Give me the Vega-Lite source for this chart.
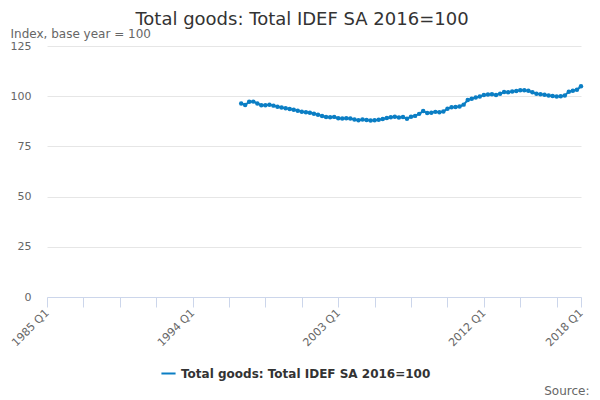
{
  "$schema": "https://vega.github.io/schema/vega-lite/v6.json",
  "width": 534,
  "height": 251,
  "autosize": {"type": "none"},
  "padding": {"left": 47, "top": 46, "right": 19, "bottom": 103},
  "background": "white",
  "config": {
    "font": "DejaVu Sans",
    "view": {"stroke": null}
  },
  "title": {
    "text": "Total goods: Total IDEF SA 2016=100",
    "fontSize": 18,
    "fontWeight": "normal",
    "color": "#333333",
    "anchor": "middle",
    "dx": -12,
    "dy": 23,
    "offset": 21
  },
  "data": {
    "values": [
      {"date": "1997-01-01", "value": 96.4},
      {"date": "1997-04-01", "value": 95.6},
      {"date": "1997-07-01", "value": 97.2},
      {"date": "1997-10-01", "value": 97.3},
      {"date": "1998-01-01", "value": 96.4},
      {"date": "1998-04-01", "value": 95.5},
      {"date": "1998-07-01", "value": 95.5},
      {"date": "1998-10-01", "value": 95.7},
      {"date": "1999-01-01", "value": 95.3},
      {"date": "1999-04-01", "value": 94.7},
      {"date": "1999-07-01", "value": 94.4},
      {"date": "1999-10-01", "value": 94.0},
      {"date": "2000-01-01", "value": 93.6},
      {"date": "2000-04-01", "value": 93.2},
      {"date": "2000-07-01", "value": 92.7},
      {"date": "2000-10-01", "value": 92.3},
      {"date": "2001-01-01", "value": 92.0},
      {"date": "2001-04-01", "value": 91.8},
      {"date": "2001-07-01", "value": 91.3},
      {"date": "2001-10-01", "value": 90.8},
      {"date": "2002-01-01", "value": 90.1},
      {"date": "2002-04-01", "value": 89.6},
      {"date": "2002-07-01", "value": 89.5},
      {"date": "2002-10-01", "value": 89.7},
      {"date": "2003-01-01", "value": 89.0},
      {"date": "2003-04-01", "value": 88.9},
      {"date": "2003-07-01", "value": 89.0},
      {"date": "2003-10-01", "value": 88.9},
      {"date": "2004-01-01", "value": 88.4},
      {"date": "2004-04-01", "value": 88.0},
      {"date": "2004-07-01", "value": 88.4},
      {"date": "2004-10-01", "value": 88.1},
      {"date": "2005-01-01", "value": 87.9},
      {"date": "2005-04-01", "value": 88.0},
      {"date": "2005-07-01", "value": 88.3},
      {"date": "2005-10-01", "value": 88.6},
      {"date": "2006-01-01", "value": 89.1},
      {"date": "2006-04-01", "value": 89.5},
      {"date": "2006-07-01", "value": 89.8},
      {"date": "2006-10-01", "value": 89.4},
      {"date": "2007-01-01", "value": 89.6},
      {"date": "2007-04-01", "value": 88.8},
      {"date": "2007-07-01", "value": 89.8},
      {"date": "2007-10-01", "value": 90.2},
      {"date": "2008-01-01", "value": 91.2},
      {"date": "2008-04-01", "value": 92.6},
      {"date": "2008-07-01", "value": 91.6},
      {"date": "2008-10-01", "value": 91.8},
      {"date": "2009-01-01", "value": 92.2},
      {"date": "2009-04-01", "value": 92.0},
      {"date": "2009-07-01", "value": 92.4},
      {"date": "2009-10-01", "value": 93.8},
      {"date": "2010-01-01", "value": 94.5},
      {"date": "2010-04-01", "value": 94.6},
      {"date": "2010-07-01", "value": 94.9},
      {"date": "2010-10-01", "value": 95.8},
      {"date": "2011-01-01", "value": 98.1},
      {"date": "2011-04-01", "value": 98.7},
      {"date": "2011-07-01", "value": 99.4},
      {"date": "2011-10-01", "value": 99.9},
      {"date": "2012-01-01", "value": 100.6},
      {"date": "2012-04-01", "value": 100.9},
      {"date": "2012-07-01", "value": 101.0},
      {"date": "2012-10-01", "value": 100.6},
      {"date": "2013-01-01", "value": 101.2},
      {"date": "2013-04-01", "value": 102.1},
      {"date": "2013-07-01", "value": 102.0},
      {"date": "2013-10-01", "value": 102.3},
      {"date": "2014-01-01", "value": 102.6},
      {"date": "2014-04-01", "value": 103.0},
      {"date": "2014-07-01", "value": 103.0},
      {"date": "2014-10-01", "value": 102.7},
      {"date": "2015-01-01", "value": 102.0},
      {"date": "2015-04-01", "value": 101.2},
      {"date": "2015-07-01", "value": 101.0},
      {"date": "2015-10-01", "value": 100.7},
      {"date": "2016-01-01", "value": 100.4},
      {"date": "2016-04-01", "value": 100.1},
      {"date": "2016-07-01", "value": 99.9},
      {"date": "2016-10-01", "value": 100.0},
      {"date": "2017-01-01", "value": 100.4},
      {"date": "2017-04-01", "value": 102.2},
      {"date": "2017-07-01", "value": 102.7},
      {"date": "2017-10-01", "value": 103.2},
      {"date": "2018-01-01", "value": 104.9}
    ]
  },
  "mark": {
    "type": "line",
    "strokeWidth": 2,
    "point": {"filled": true, "size": 20}
  },
  "encoding": {
    "x": {
      "field": "date",
      "type": "temporal",
      "scale": {"type": "utc", "domain": [{"year": 1985, "month": 1, "date": 1, "utc": true}, {"year": 2018, "month": 1, "date": 1, "utc": true}]},
      "axis": {
        "values": [
          {"year": 1985, "quarter": 1, "utc": true},
          {"year": 1987, "quarter": 2, "utc": true},
          {"year": 1989, "quarter": 3, "utc": true},
          {"year": 1991, "quarter": 4, "utc": true},
          {"year": 1994, "quarter": 1, "utc": true},
          {"year": 1996, "quarter": 2, "utc": true},
          {"year": 1998, "quarter": 3, "utc": true},
          {"year": 2000, "quarter": 4, "utc": true},
          {"year": 2003, "quarter": 1, "utc": true},
          {"year": 2005, "quarter": 2, "utc": true},
          {"year": 2007, "quarter": 3, "utc": true},
          {"year": 2009, "quarter": 4, "utc": true},
          {"year": 2012, "quarter": 1, "utc": true},
          {"year": 2014, "quarter": 2, "utc": true},
          {"year": 2016, "quarter": 3, "utc": true},
          {"year": 2018, "quarter": 1, "utc": true}
        ],
        "labelExpr": "indexof(['1985 Q1','1994 Q1','2003 Q1','2012 Q1','2018 Q1'], utcFormat(datum.value, '%Y Q%q')) >= 0 ? utcFormat(datum.value, '%Y Q%q') : ''",
        "labelAngle": -45,
        "labelAlign": "right",
        "labelBaseline": "middle",
        "labelFontSize": 11,
        "labelColor": "#666666",
        "labelOverlap": false,
        "labelBound": false,
        "labelFlush": false,
        "labelPadding": 4,
        "domainColor": "#ccd6eb",
        "tickColor": "#ccd6eb",
        "tickSize": 10,
        "grid": false,
        "title": "Source:",
        "titleFontSize": 12,
        "titleFontWeight": "normal",
        "titleColor": "#666666",
        "titleAnchor": "end",
        "titleAlign": "right",
        "titleBaseline": "alphabetic",
        "titleX": 542,
        "titleY": 97
      }
    },
    "y": {
      "field": "value",
      "type": "quantitative",
      "scale": {"domain": [0, 125], "nice": false},
      "axis": {
        "values": [0, 25, 50, 75, 100, 125],
        "domain": false,
        "ticks": false,
        "gridColor": "#e6e6e6",
        "labelFontSize": 11,
        "labelColor": "#666666",
        "labelPadding": 16,
        "title": "Index, base year = 100",
        "titleAngle": 0,
        "titleAlign": "left",
        "titleBaseline": "alphabetic",
        "titleX": -37,
        "titleY": -9,
        "titleFontSize": 12,
        "titleFontWeight": "normal",
        "titleColor": "#666666"
      }
    },
    "color": {
      "datum": "Total goods: Total IDEF SA 2016=100",
      "type": "nominal",
      "scale": {"range": ["#0b7ec4"]},
      "legend": {
        "title": null,
        "orient": "none",
        "legendX": 113,
        "legendY": 319,
        "symbolType": "stroke",
        "symbolStrokeWidth": 2,
        "symbolSize": 200,
        "labelFontSize": 12,
        "labelFontWeight": "bold",
        "labelColor": "#333333",
        "labelLimit": 400
      }
    }
  }
}
